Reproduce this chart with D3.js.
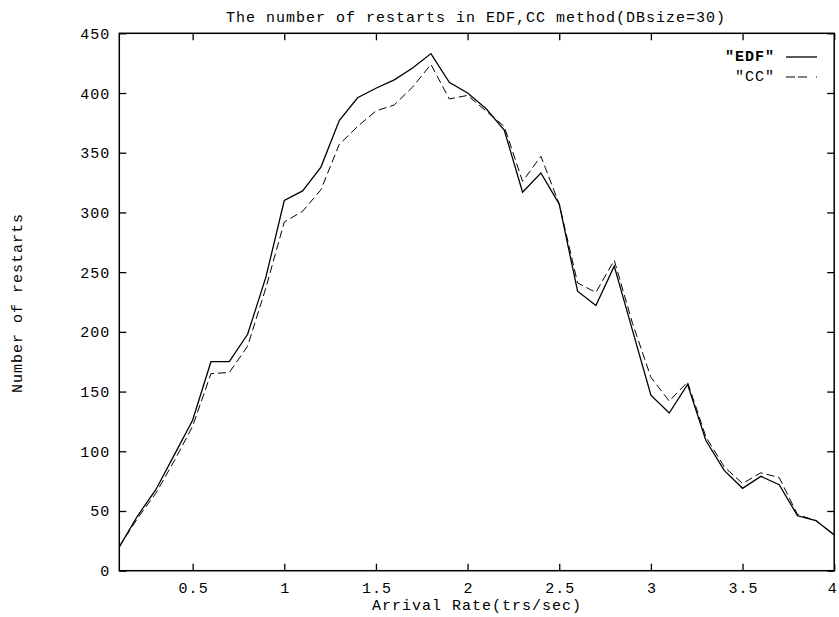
<!DOCTYPE html>
<meta charset="utf-8">
<script src="https://d3js.org/d3.v7.min.js"></script>
<style>
  body { margin: 0; background: #fff; }
  text { font-family: "Liberation Mono", "Courier New", monospace; font-size: 15px; letter-spacing: 1px; fill: #000; }
</style>
<div id="chart"></div>
<script>
// arrival rates (trs/sec)
var rates = [0.1, 0.2, 0.3, 0.4, 0.5, 0.6, 0.7, 0.8, 0.9, 1.0,
             1.1, 1.2, 1.3, 1.4, 1.5, 1.6, 1.7, 1.8, 1.9, 2.0,
             2.1, 2.2, 2.3, 2.4, 2.5, 2.6, 2.7, 2.8, 2.9, 3.0,
             3.1, 3.2, 3.3, 3.4, 3.5, 3.6, 3.7, 3.8, 3.9, 4.0];

// number of restarts
var edf = [20, 46, 68, 97, 126, 175, 175, 198, 246, 310,
           318, 338, 377, 396, 404, 411, 421, 433, 409, 400,
           387, 369, 317, 333, 307, 234, 222, 255, 201, 147,
           132, 156, 109, 84, 69, 79, 72, 46, 42, 30];
var cc  = [20, 44, 65, 92, 121, 165, 166, 188, 237, 292,
           301, 319, 357, 372, 385, 390, 405, 424, 395, 398,
           385, 372, 326, 347, 307, 241, 233, 260, 207, 162,
           142, 158, 112, 87, 73, 82, 78, 47, 42, 30];

var xTicks = [0.5, 1, 1.5, 2, 2.5, 3, 3.5, 4];
var yTicks = [0, 50, 100, 150, 200, 250, 300, 350, 400, 450];

var W = 839, H = 617;
var plotL = 119.3, plotR = 834.2, plotT = 33.3, plotB = 570.7;

var svg = d3.select("#chart").append("svg")
  .attr("width", W)
  .attr("height", H);

var x = d3.scaleLinear().domain([0.1, 4]).range([plotL, plotR]);
var y = d3.scaleLinear().domain([0, 450]).range([plotB, plotT]);

// ticks on all four sides, pointing inward
var xb = svg.append("g").attr("transform", "translate(0," + plotB + ")")
  .call(d3.axisBottom(x).tickValues(xTicks).tickFormat(d3.format("")).tickSize(-7).tickPadding(12));
var xt = svg.append("g").attr("transform", "translate(0," + plotT + ")")
  .call(d3.axisTop(x).tickValues(xTicks).tickFormat("").tickSize(-7));
var yl = svg.append("g").attr("transform", "translate(" + plotL + ",0)")
  .call(d3.axisLeft(y).tickValues(yTicks).tickSize(-7).tickPadding(10));
var yr = svg.append("g").attr("transform", "translate(" + plotR + ",0)")
  .call(d3.axisRight(y).tickValues(yTicks).tickFormat("").tickSize(-7));

svg.selectAll(".domain").remove();
svg.selectAll(".tick line").attr("stroke", "#000").attr("stroke-width", 1.3);
svg.selectAll(".tick text").attr("font-family", null).attr("font-size", null);
xb.selectAll(".tick text").attr("dx", "0.5");
// the label at 4 sits on the right edge in the reference, keep it inside the page
xb.selectAll(".tick text").filter(function(d) { return d === 4; }).attr("dx", "-2");
yl.selectAll(".tick text").attr("dy", "5").attr("dx", "1");

// frame
svg.append("rect")
  .attr("x", plotL).attr("y", plotT)
  .attr("width", plotR - plotL).attr("height", plotB - plotT)
  .attr("fill", "none").attr("stroke", "#000").attr("stroke-width", 1.5);

var line = d3.line()
  .x(function(d) { return x(d[0]); })
  .y(function(d) { return y(d[1]); });

svg.append("path")
  .datum(d3.zip(rates, cc))
  .attr("d", line)
  .attr("fill", "none").attr("stroke", "#000").attr("stroke-width", 1)
  .attr("stroke-dasharray", "8,4");

svg.append("path")
  .datum(d3.zip(rates, edf))
  .attr("d", line)
  .attr("fill", "none").attr("stroke", "#000").attr("stroke-width", 1.3);

// title and axis labels
svg.append("text")
  .attr("x", 476).attr("y", 22)
  .attr("text-anchor", "middle")
  .text("The number of restarts in EDF,CC method(DBsize=30)");

svg.append("text")
  .attr("x", 477).attr("y", 610)
  .attr("text-anchor", "middle")
  .text("Arrival Rate(trs/sec)");

svg.append("text")
  .attr("transform", "translate(22,303) rotate(-90)")
  .attr("text-anchor", "middle")
  .text("Number of restarts");

// legend
svg.append("text")
  .attr("x", 775).attr("y", 61)
  .attr("text-anchor", "end")
  .style("font-weight", "bold")
  .text('"EDF"');
svg.append("line")
  .attr("x1", 786).attr("x2", 817).attr("y1", 57).attr("y2", 57)
  .attr("stroke", "#000").attr("stroke-width", 1.3);

svg.append("text")
  .attr("x", 775).attr("y", 81)
  .attr("text-anchor", "end")
  .text('"CC"');
svg.append("line")
  .attr("x1", 786).attr("x2", 817).attr("y1", 77).attr("y2", 77)
  .attr("stroke", "#000").attr("stroke-width", 1)
  .attr("stroke-dasharray", "9,3,9,9,1,50");
</script>
